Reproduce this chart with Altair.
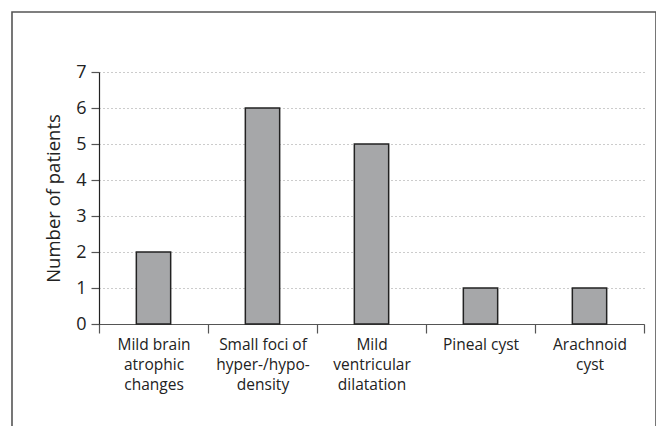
import altair as alt
import pandas as pd

categories = ["Mild brain atrophic changes", "Small foci of hyper-/hypo-density",
              "Mild ventricular dilatation", "Pineal cyst", "Arachnoid cyst"]
label_lines = [["Mild brain", "atrophic", "changes"],
               ["Small foci of", "hyper-/hypo-", "density"],
               ["Mild", "ventricular", "dilatation"],
               ["Pineal cyst"],
               ["Arachnoid", "cyst"]]
patients = [2, 6, 5, 1, 1]

df = pd.DataFrame({"category": categories, "patients": patients})

label_expr = "{" + ", ".join(
    f"'{c}': {lines!r}" for c, lines in zip(categories, label_lines)
) + "}[datum.value]"

FONT = "Open Sans"
W, H = 545, 252

x_enc = alt.X("category:N", sort=categories, title=None,
              scale=alt.Scale(paddingInner=0, paddingOuter=0),
              axis=alt.Axis(labelExpr=label_expr, labelAngle=0, labelFont=FONT,
                            labelFontSize=15.5, labelColor="#222", labelLineHeight=20,
                            labelPadding=4, tickBand="extent", tickSize=9,
                            tickColor="#555", domainColor="#555", tickWidth=1.2,
                            domainWidth=1.2, grid=False, labelBaseline="top"))

bars = alt.Chart(df).mark_bar(fill="#a6a7a9", stroke="#222", strokeWidth=1.5,
                              width=alt.RelativeBandSize(0.315)).encode(
    x=x_enc,
    y=alt.Y("patients:Q", title="Number of patients",
            scale=alt.Scale(domain=[0, 7], nice=False),
            axis=alt.Axis(values=list(range(8)), tickCount=8, labelFont=FONT,
                          labelFontSize=18, labelColor="#222", labelPadding=5,
                          tickSize=8, tickColor="#555", tickWidth=1.2,
                          domainColor="#222", domainWidth=1.2,
                          titleFont=FONT, titleFontSize=18.5, titleFontWeight="normal",
                          titleColor="#222", titlePadding=12,
                          grid=True, gridColor="#999", gridDash=[1, 3],
                          gridWidth=1)),
)

border = alt.Chart(pd.DataFrame({"a": [0]})).mark_rect(
    fill=None, stroke="#555", strokeWidth=1.6
).encode(
    x=alt.value(-87), x2=alt.value(557), y=alt.value(-60), y2=alt.value(400)
)

chart = alt.layer(border, bars).properties(
    width=W, height=H,
    autosize=alt.AutoSizeParams(type="none"),
    padding={"left": 91, "top": 64, "right": 12, "bottom": 102},
).configure_view(stroke=None)

chart.save("out.html", embed_options={"renderer": "svg", "actions": False})
